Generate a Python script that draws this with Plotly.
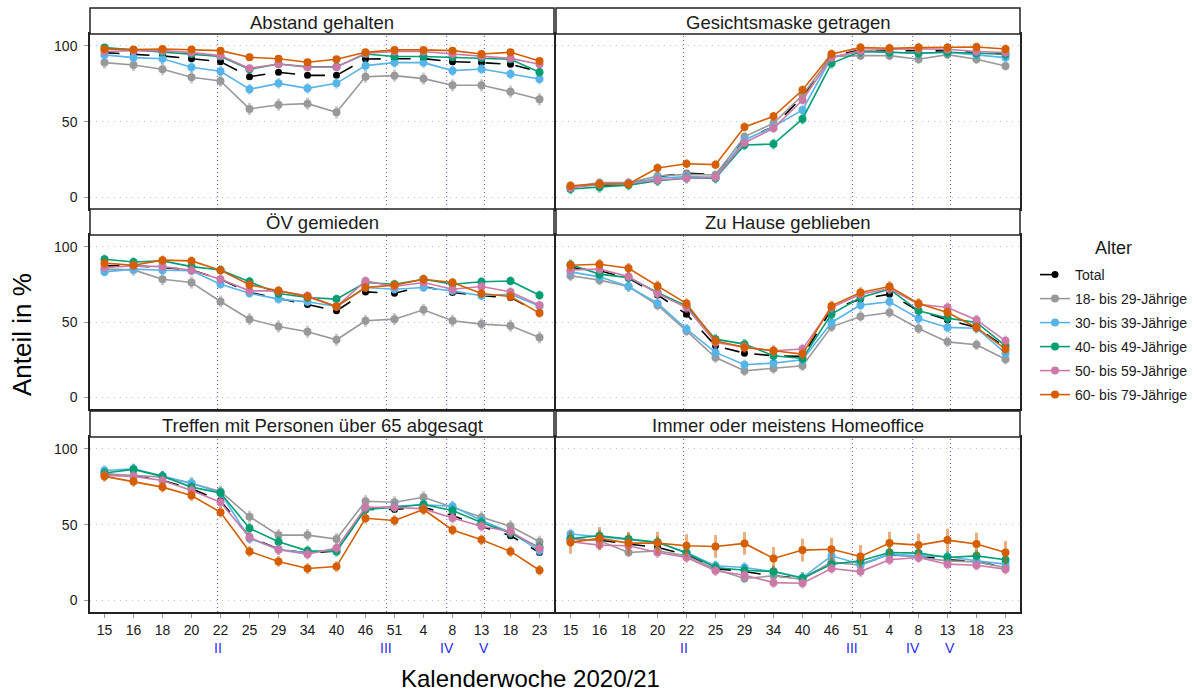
import plotly.graph_objects as go
from plotly.subplots import make_subplots

# ---------------- data ----------------
weeks = ["15", "16", "18", "20", "22", "25", "29", "34", "40", "46", "51", "4", "8", "13", "18", "23"]
phase_pos = [3.9, 9.72, 11.8, 13.1]
phase_labels = ["II", "III", "IV", "V"]

series_names = ["Total", "18- bis 29-Jährige", "30- bis 39-Jährige",
                "40- bis 49-Jährige", "50- bis 59-Jährige", "60- bis 79-Jährige"]
series_colors = ["#000000", "#999999", "#56B4E9", "#009E73", "#CC79A7", "#D55E00"]
series_err_colors = ["rgba(0,0,0,0.45)", "rgba(153,153,153,0.5)", "rgba(86,180,233,0.5)",
                     "rgba(0,158,115,0.5)", "rgba(204,121,167,0.5)", "rgba(213,94,0,0.5)"]

panel_titles = ["Abstand gehalten", "Gesichtsmaske getragen", "ÖV gemieden",
                "Zu Hause geblieben", "Treffen mit Personen über 65 abgesagt",
                "Immer oder meistens Homeoffice"]

# Abstand gehalten
abstand_total = [95.6, 94.7, 93.4, 91.6, 89.6, 79.7, 82.6, 80.6, 80.6, 91.4, 91.6, 91.6, 89.6, 89.0, 87.9, 83.0]
abstand_18 = [89.0, 87.4, 84.6, 79.3, 76.9, 58.4, 61.2, 61.9, 56.2, 79.7, 80.4, 78.4, 74.0, 74.0, 69.8, 64.8]
abstand_30 = [94.1, 92.3, 91.6, 85.9, 83.3, 71.4, 75.3, 72.0, 75.3, 87.0, 89.0, 89.0, 83.7, 84.8, 81.5, 78.2]
abstand_40 = [98.9, 97.4, 95.8, 94.7, 93.0, 84.6, 88.1, 86.3, 86.3, 94.7, 93.0, 93.0, 92.5, 92.1, 91.2, 82.6]
abstand_50 = [96.3, 96.9, 96.9, 95.6, 93.6, 85.2, 88.1, 85.9, 85.9, 95.2, 96.3, 96.3, 94.7, 93.4, 91.8, 87.9]
abstand_60 = [98.0, 97.6, 98.0, 97.6, 96.9, 92.5, 91.6, 89.2, 91.2, 95.8, 97.4, 97.4, 96.9, 94.7, 95.8, 90.1]

# Gesichtsmaske getragen
maske_total = [7.0, 7.9, 8.8, 13.7, 15.9, 15.0, 38.3, 46.7, 66.5, 93.4, 97.4, 96.9, 96.7, 96.7, 95.6, 94.7]
maske_18 = [7.0, 9.7, 9.7, 14.1, 15.2, 14.8, 40.1, 48.9, 67.6, 93.0, 93.6, 93.6, 91.2, 94.3, 91.2, 86.8]
maske_30 = [7.0, 8.1, 9.3, 12.6, 13.7, 13.2, 37.9, 46.7, 57.7, 92.5, 96.3, 95.8, 95.2, 95.8, 94.1, 92.3]
maske_40 = [5.5, 6.6, 8.1, 11.0, 12.6, 12.6, 34.6, 35.2, 51.8, 88.5, 96.3, 95.8, 95.2, 95.8, 95.2, 94.5]
maske_50 = [6.4, 8.6, 9.3, 11.5, 12.6, 13.2, 36.1, 45.6, 64.3, 92.3, 96.9, 97.8, 98.0, 97.8, 96.3, 95.6]
maske_60 = [7.7, 8.8, 8.8, 19.4, 22.2, 21.6, 46.5, 53.5, 70.9, 94.7, 98.9, 98.5, 98.9, 98.9, 99.3, 98.0]

# ÖV gemieden
oev_total = [87.4, 87.4, 86.3, 84.7, 78.5, 69.7, 65.9, 61.7, 57.5, 70.1, 69.2, 73.7, 69.7, 67.5, 66.4, 56.4]
oev_18 = [85.2, 84.7, 78.5, 76.3, 63.7, 52.0, 47.1, 43.6, 38.3, 50.9, 52.0, 58.2, 50.9, 48.7, 47.6, 39.8]
oev_30 = [83.4, 85.2, 84.5, 84.1, 75.2, 69.2, 65.3, 63.5, 60.4, 73.0, 71.9, 73.0, 70.8, 67.5, 68.6, 60.8]
oev_40 = [91.8, 90.0, 90.7, 86.9, 84.7, 77.0, 69.0, 66.4, 65.3, 76.3, 75.2, 78.5, 75.2, 76.8, 77.4, 67.9]
oev_50 = [86.3, 87.4, 86.9, 84.5, 78.5, 70.8, 70.8, 67.5, 60.4, 77.4, 73.7, 76.3, 71.9, 73.7, 70.1, 61.3]
oev_60 = [89.2, 87.8, 91.2, 90.7, 84.5, 74.8, 70.8, 66.8, 60.4, 73.0, 74.6, 78.5, 76.3, 69.0, 67.0, 56.0]

# Zu Hause geblieben
hause_total = [86.3, 84.1, 79.2, 68.1, 55.3, 34.3, 29.4, 27.7, 27.2, 58.6, 65.3, 68.6, 57.5, 51.5, 46.5, 33.2]
hause_18 = [80.8, 77.9, 73.7, 61.3, 44.2, 26.5, 17.7, 19.2, 21.0, 46.9, 53.8, 56.4, 45.8, 36.9, 35.0, 25.4]
hause_30 = [83.4, 80.1, 73.7, 62.6, 45.4, 29.9, 21.7, 22.8, 25.0, 49.8, 61.3, 63.5, 52.4, 46.5, 46.0, 29.4]
hause_40 = [88.1, 81.9, 79.6, 69.7, 60.8, 38.7, 35.4, 27.7, 25.9, 55.3, 66.4, 71.9, 57.5, 52.7, 49.8, 34.3]
hause_50 = [84.7, 85.2, 80.3, 69.0, 59.7, 36.5, 33.6, 31.0, 32.1, 59.7, 68.6, 72.3, 61.9, 59.7, 51.5, 37.6]
hause_60 = [87.8, 88.5, 85.8, 74.1, 62.4, 37.6, 33.2, 31.0, 28.8, 60.8, 69.7, 73.7, 62.4, 56.4, 46.5, 32.1]

# Treffen mit Personen über 65 abgesagt
treffen_total = [83.2, 82.5, 79.2, 73.7, 65.9, 42.0, 33.8, 31.2, 32.7, 60.0, 60.0, 61.5, 56.0, 48.9, 42.7, 31.6]
treffen_18 = [83.6, 82.5, 81.4, 77.4, 71.9, 55.3, 43.1, 43.1, 40.5, 65.5, 64.8, 68.1, 61.5, 54.9, 48.9, 38.7]
treffen_30 = [85.8, 86.9, 82.1, 77.4, 71.0, 40.9, 33.8, 31.2, 33.8, 60.4, 62.2, 63.1, 62.2, 52.7, 44.9, 32.7]
treffen_40 = [84.1, 86.5, 81.9, 74.8, 71.0, 47.6, 38.7, 32.7, 32.3, 60.0, 61.5, 63.3, 59.3, 51.5, 44.5, 35.0]
treffen_50 = [82.5, 81.9, 79.2, 72.6, 64.8, 41.6, 33.4, 30.5, 34.5, 61.5, 61.5, 60.4, 54.4, 48.9, 45.4, 34.3]
treffen_60 = [81.9, 78.5, 74.8, 69.2, 58.2, 32.3, 25.7, 21.0, 22.3, 54.2, 52.7, 60.0, 46.5, 40.0, 32.3, 19.9]

# Immer oder meistens Homeoffice
home_total = [40.5, 39.8, 37.2, 35.0, 30.1, 21.0, 19.0, 16.2, 14.4, 25.0, 23.9, 29.9, 29.4, 26.8, 25.7, 21.7]
home_18 = [40.5, 39.4, 31.6, 32.7, 29.4, 20.6, 14.4, 16.2, 13.9, 25.4, 23.2, 30.5, 28.3, 26.1, 25.4, 21.7]
home_30 = [43.8, 42.0, 40.0, 38.3, 31.6, 22.8, 21.7, 19.0, 15.0, 29.4, 23.9, 30.5, 29.4, 29.0, 26.1, 23.9]
home_40 = [40.9, 42.7, 40.5, 38.3, 31.2, 21.7, 19.9, 19.0, 14.6, 23.9, 26.1, 31.6, 31.2, 28.3, 29.4, 26.8]
home_50 = [38.7, 36.5, 36.1, 31.6, 28.3, 19.5, 16.6, 11.7, 11.3, 21.0, 19.0, 26.8, 28.3, 23.9, 23.2, 20.6]
home_60 = [38.3, 40.9, 37.8, 37.8, 36.1, 35.6, 37.6, 27.7, 33.2, 33.8, 29.0, 37.8, 36.5, 39.8, 37.2, 31.6]

# half-width of the confidence intervals (per series), estimated
err_abstand = [1.0, 4.0, 3.5, 2.0, 2.0, 1.5]
err_maske = [1.0, 3.0, 3.0, 3.5, 3.0, 3.0]
err_oev = [1.5, 4.0, 3.0, 3.0, 3.0, 3.0]
err_hause = [1.5, 3.5, 3.5, 3.5, 3.5, 3.5]
err_treffen = [1.5, 4.0, 3.5, 3.5, 3.5, 3.5]
err_home = [1.5, 3.0, 3.5, 4.0, 3.5, 7.5]

panel_data = [
    [abstand_total, abstand_18, abstand_30, abstand_40, abstand_50, abstand_60],
    [maske_total, maske_18, maske_30, maske_40, maske_50, maske_60],
    [oev_total, oev_18, oev_30, oev_40, oev_50, oev_60],
    [hause_total, hause_18, hause_30, hause_40, hause_50, hause_60],
    [treffen_total, treffen_18, treffen_30, treffen_40, treffen_50, treffen_60],
    [home_total, home_18, home_30, home_40, home_50, home_60],
]
panel_err = [err_abstand, err_maske, err_oev, err_hause, err_treffen, err_home]

# ---------------- layout geometry ----------------
W, H = 1197, 693
FONT = "Liberation Sans, Arial, Helvetica, sans-serif"
col_px = [(90, 554), (556, 1020)]
row_px = [(34, 209), (235, 409), (437, 612)]
strip_px = [(8, 34), (209, 235), (411, 437)]

def px_x(p):
    return p / W

def px_y(p):
    return 1 - p / H

fig = make_subplots(rows=3, cols=2, horizontal_spacing=0.002, vertical_spacing=0.03)

x_idx = list(range(len(weeks)))

for pi in range(6):
    r, c = pi // 2 + 1, pi % 2 + 1
    for si in range(6):
        ys = panel_data[pi][si]
        e = panel_err[pi][si]
        is_total = si == 0
        fig.add_trace(go.Scatter(
            x=x_idx, y=ys, mode="lines+markers",
            name=series_names[si], legendgroup=series_names[si],
            showlegend=(pi == 0),
            line=dict(color=series_colors[si], width=1.6,
                      dash="longdash" if is_total else "solid"),
            marker=dict(color=series_colors[si], size=7 if is_total else 8),
            error_y=dict(type="constant", value=e, color=series_err_colors[si],
                         thickness=3, width=0),
        ), row=r, col=c)

# axes
for pi in range(6):
    r, c = pi // 2, pi % 2
    n = pi + 1
    xa = "xaxis" if n == 1 else f"xaxis{n}"
    ya = "yaxis" if n == 1 else f"yaxis{n}"
    fig.layout[xa].update(
        domain=[px_x(col_px[c][0]), px_x(col_px[c][1])],
        range=[-0.5, 15.5], tickmode="array", tickvals=x_idx, ticktext=weeks,
        showticklabels=(r == 2), ticks="outside" if r == 2 else "", ticklen=4,
        tickcolor="#999999", tickfont=dict(size=14, color="#1a1a1a", family=FONT),
        showgrid=False, zeroline=False, showline=True, mirror=True,
        linecolor="#222222", linewidth=1.5,
    )
    fig.layout[ya].update(
        domain=[px_y(row_px[r][1]), px_y(row_px[r][0])],
        range=[-7.7, 107.9], tickmode="array", tickvals=[0, 50, 100],
        showticklabels=(c == 0), ticks="outside" if c == 0 else "", ticklen=4,
        tickcolor="#999999", tickfont=dict(size=14, color="#1a1a1a", family=FONT),
        ticklabelstandoff=4,
        showgrid=True, gridcolor="#c4c4c4", griddash="1px,5px", gridwidth=1,
        zeroline=False, showline=True, mirror=True,
        linecolor="#222222", linewidth=1.5,
    )
    # phase lines
    xr = "x" if n == 1 else f"x{n}"
    yr = "y domain" if n == 1 else f"y{n} domain"
    for p in phase_pos:
        fig.add_shape(type="line", xref=xr, yref=yr, x0=p, x1=p, y0=0, y1=1,
                      line=dict(color="rgba(50,50,255,0.85)", width=1, dash="1px,3px"),
                      layer="below")
    # phase labels below bottom row
    if r == 2:
        for p, lab in zip(phase_pos, phase_labels):
            fig.add_annotation(x=p, xref=xr, y=px_y(648), yref="paper", text=lab,
                               showarrow=False, font=dict(size=14, color="#2a2aff", family=FONT),
                               xanchor="center", yanchor="middle")

# strips
for ri in range(3):
    for ci in range(2):
        x0, x1 = col_px[ci]
        y0, y1 = strip_px[ri]
        fig.add_shape(type="rect", xref="paper", yref="paper",
                      x0=px_x(x0), x1=px_x(x1), y0=px_y(y1), y1=px_y(y0),
                      line=dict(color="#222222", width=1.5), fillcolor="white")
        fig.add_annotation(x=px_x((x0 + x1) / 2), y=px_y((y0 + y1) / 2 + 1),
                           xref="paper", yref="paper", text=panel_titles[ri * 2 + ci],
                           showarrow=False, font=dict(size=18.5, color="#1a1a1a", family=FONT),
                           xanchor="center", yanchor="middle")

# axis titles
fig.add_annotation(x=px_x(530), y=px_y(678), xref="paper", yref="paper",
                   text="Kalenderwoche 2020/21", showarrow=False,
                   font=dict(size=24, color="#000000", family=FONT),
                   xanchor="center", yanchor="middle")
fig.add_annotation(x=px_x(22), y=px_y(335), xref="paper", yref="paper",
                   text="Anteil in %", showarrow=False, textangle=-90,
                   font=dict(size=26, color="#000000", family=FONT),
                   xanchor="center", yanchor="middle")
# legend title
fig.add_annotation(x=px_x(1113), y=px_y(248), xref="paper", yref="paper",
                   text="Alter", showarrow=False,
                   font=dict(size=18, color="#1a1a1a", family=FONT),
                   xanchor="center", yanchor="middle")

fig.update_layout(
    width=W, height=H, margin=dict(l=0, r=0, t=0, b=0),
    paper_bgcolor="white", plot_bgcolor="white",
    font=dict(family=FONT, color="#1a1a1a"),
    showlegend=True,
    legend=dict(
        x=px_x(1035), y=px_y(259), xanchor="left", yanchor="top",
        font=dict(size=14, color="#1a1a1a", family=FONT),
        tracegroupgap=2.8, itemwidth=30, bgcolor="rgba(0,0,0,0)",
    ),
)

fig.write_html("out.html")
